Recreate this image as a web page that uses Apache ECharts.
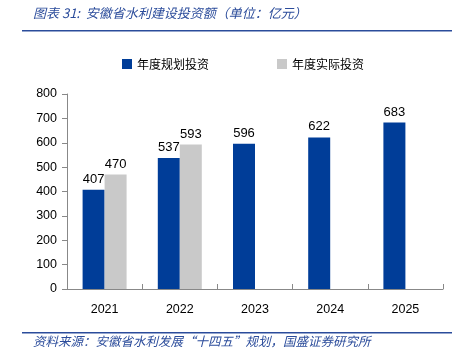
<!DOCTYPE html>
<html><head><meta charset="utf-8">
<script src="https://cdn.jsdelivr.net/npm/echarts@6/dist/echarts.min.js"></script>
<style>html,body{margin:0;padding:0;background:#fff}#c{width:464px;height:358px}</style>
</head><body><div id="c"></div>
<script>
const categories = ['2021','2022','2023','2024','2025'];
const planned = [407, 537, 596, 622, 683];
const actual = [470, 593, null, null, null];
const yTicks = [0,100,200,300,400,500,600,700,800];
const titleText = '图表 31:  安徽省水利建设投资额（单位：亿元）';
const sourceText = '资料来源：安徽省水利发展“十四五”规划，国盛证券研究所';

const chart = echarts.init(document.getElementById('c'));
const lbl = {show:true, position:'top', color:'#000', fontSize:13, fontFamily:'Liberation Sans, Arial', distance:4};
chart.setOption({
  animation:false,
  textStyle:{fontFamily:'Liberation Sans, Arial'},
  graphic:[
    {type:'text', left:33, top:7, style:{text:titleText, fill:'#2B4C9B', font:'italic 13px "Noto Sans CJK SC"'}},
    {type:'rect', shape:{x:22, y:30, width:430, height:1.5}, style:{fill:'#2B4C9B'}},
    {type:'rect', shape:{x:22, y:332, width:430, height:1.5}, style:{fill:'#2B4C9B'}},
    {type:'text', left:33, top:335, style:{text:sourceText, fill:'#2B4C9B', font:'italic 12.5px "Noto Sans CJK SC"'}}
  ],
  legend:{
    top:53, left:117, itemWidth:10, itemHeight:10, itemGap:68,
    icon:'rect',
    textStyle:{fontSize:12, fontFamily:'Noto Sans CJK SC', color:'#000'},
    data:['年度规划投资','年度实际投资']
  },
  grid:{left:67, right:21, top:94, bottom:69},
  xAxis:{
    type:'category', data:categories,
    axisLine:{lineStyle:{color:'#888'}},
    axisTick:{show:true, lineStyle:{color:'#888'}, length:5, inside:true},
    axisLabel:{color:'#000', fontSize:12.5, margin:14}
  },
  yAxis:{
    type:'value', min:0, max:800, interval:100,
    axisLine:{show:true, lineStyle:{color:'#888'}},
    axisTick:{show:true, length:5, lineStyle:{color:'#888'}},
    splitLine:{show:false},
    axisLabel:{color:'#000', fontSize:12.5, margin:10,
      formatter:v=>yTicks.includes(v)?String(v):''}
  },
  series:[
    {name:'年度规划投资', type:'bar', data:planned, barWidth:22, barGap:'0%',
      itemStyle:{color:'#003D98'}, label:lbl},
    {name:'年度实际投资', type:'bar', data:actual, barWidth:22,
      itemStyle:{color:'#C9C9C9'}, label:lbl}
  ]
});
</script></body></html>
